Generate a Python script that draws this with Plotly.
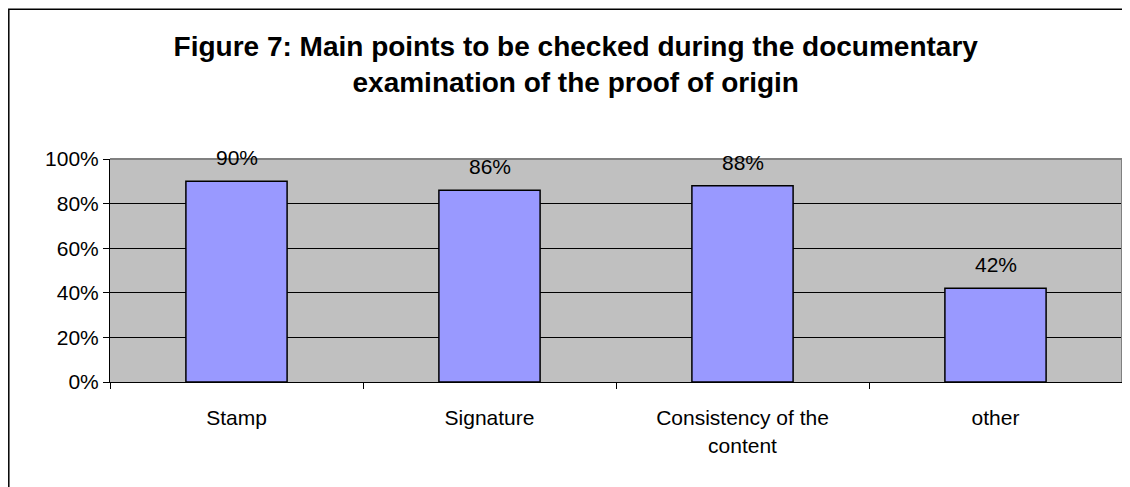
import plotly.graph_objects as go

# data
categories = ["Stamp", "Signature", "Consistency of the<br>content", "other"]
values = [0.90, 0.86, 0.88, 0.42]
labels = ["90%", "86%", "88%", "42%"]
y_ticks = [0, 0.2, 0.4, 0.6, 0.8, 1.0]
y_tick_labels = ["0%", "20%", "40%", "60%", "80%", "100%"]

font_family = "Liberation Sans, Arial, sans-serif"

fig = go.Figure()

fig.add_trace(
    go.Bar(
        x=categories,
        y=values,
        width=0.4,
        marker=dict(color="#9999FF", line=dict(color="black", width=1.5)),
        hoverinfo="skip",
    )
)

# data labels above the bars
for cat, val, lab in zip(categories, values, labels):
    fig.add_annotation(
        x=cat, y=val, text=lab, showarrow=False,
        yanchor="bottom", yshift=10,
        font=dict(size=21, color="black", family=font_family),
    )

# page body has an 8px margin, so the figure is sized to fit inside the window
fig.update_layout(
    width=1122,
    height=479,
    margin=dict(l=102, r=8, t=151, b=105),
    paper_bgcolor="white",
    plot_bgcolor="#C0C0C0",
    showlegend=False,
    font=dict(family=font_family, color="black"),
    title=dict(
        text="<b>Figure 7: Main points to be checked during the documentary<br>examination of the proof of origin</b>",
        x=0.506, xanchor="center", y=0.9, yanchor="middle",
        font=dict(size=28, color="black", family=font_family),
    ),
)

fig.update_xaxes(
    tickson="boundaries",
    ticks="outside",
    ticklen=6,
    tickcolor="black",
    showline=True,
    linecolor="black",
    linewidth=1,
    showgrid=False,
    tickfont=dict(size=21),
    ticklabelstandoff=17,
)

fig.update_yaxes(
    range=[0, 1],
    tickvals=y_ticks,
    ticktext=y_tick_labels,
    ticks="outside",
    ticklen=6,
    tickcolor="black",
    showline=True,
    linecolor="black",
    linewidth=1,
    showgrid=True,
    gridcolor="black",
    gridwidth=1,
    zeroline=False,
    tickfont=dict(size=21),
)

# gray border on the top and right of the plot area
fig.add_shape(type="line", xref="paper", yref="paper", x0=0, x1=1, y0=1, y1=1,
              line=dict(color="#808080", width=2))
fig.add_shape(type="line", xref="paper", yref="paper", x0=1, x1=1, y0=0, y1=1,
              line=dict(color="#808080", width=2))

# outer chart frame (only top and left are inside the picture)
fig.add_shape(type="rect", xref="paper", yref="paper",
              x0=-0.1, x1=1.05, y0=-0.6, y1=1.672,
              line=dict(color="black", width=1.5), fillcolor="rgba(0,0,0,0)", layer="below")

fig.write_html("out.html")
